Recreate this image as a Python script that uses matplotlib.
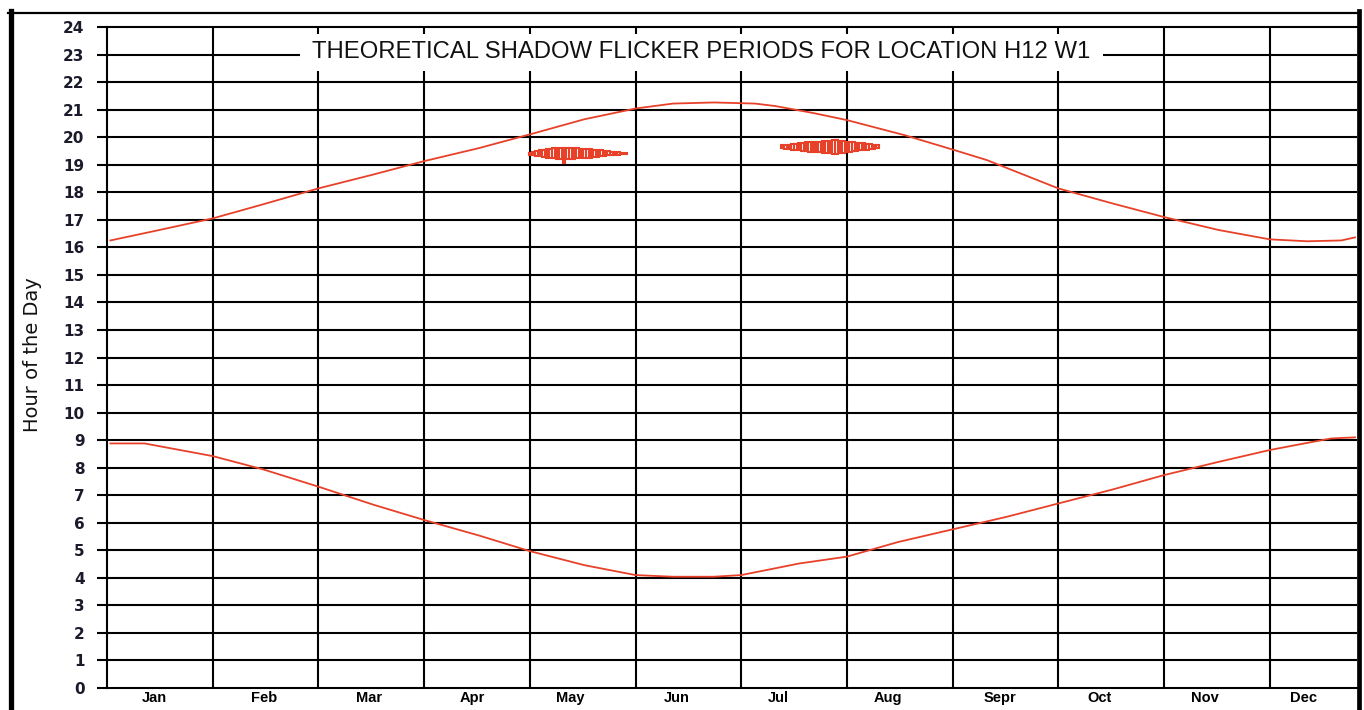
import matplotlib
matplotlib.use("Agg")
import matplotlib.pyplot as plt
from matplotlib.lines import Line2D
from matplotlib.patches import Rectangle

RED = "#e8412a"

# month labels (day of year of label) and grid boundaries (every 31 days)
months = ["Jan", "Feb", "Mar", "Apr", "May", "Jun", "Jul", "Aug", "Sepr", "Oct", "Nov", "Dec"]
month_label_day = [14, 46, 77, 107, 136, 167, 197, 229, 262, 291, 322, 351]
month_lines = [31, 62, 93, 124, 155, 186, 217, 248, 279, 310, 341]

# sunset curve (hour of day)
sunset_day = [1, 15, 31, 46, 62, 78, 93, 109, 124, 140, 155, 166, 178, 190, 196, 207,
              217, 234, 248, 258, 279, 295, 310, 326, 341, 352, 362, 366]
sunset_hr = [16.25, 16.62, 17.05, 17.57, 18.14, 18.64, 19.13, 19.60, 20.10, 20.65, 21.04, 21.22,
             21.26, 21.22, 21.13, 20.88, 20.62, 20.07, 19.55, 19.17, 18.14, 17.59, 17.10, 16.63,
             16.29, 16.22, 16.25, 16.36]

# sunrise curve
sunrise_day = [1, 11, 31, 46, 62, 78, 93, 109, 124, 140, 155, 166, 178, 186, 203, 217,
               232, 248, 264, 279, 295, 310, 326, 341, 352, 359, 366]
sunrise_hr = [8.88, 8.88, 8.42, 7.93, 7.31, 6.66, 6.10, 5.54, 4.97, 4.46, 4.10, 4.04,
              4.04, 4.10, 4.52, 4.77, 5.30, 5.76, 6.22, 6.70, 7.21, 7.73, 8.21, 8.64,
              8.90, 9.06, 9.10]

# flicker periods, May
may_day = [124, 125, 126, 127, 128, 129, 130, 131, 132, 133, 134, 135, 136, 137, 138,
           139, 140, 141, 142, 143, 144, 145, 146, 147, 148, 149, 150, 151, 152]
may_start = [19.36, 19.34, 19.32, 19.30, 19.27, 19.25, 19.24, 19.23, 19.22, 19.22, 19.05, 19.20,
             19.22, 19.22, 19.23, 19.23, 19.24, 19.25, 19.26, 19.27, 19.28, 19.30, 19.32, 19.34,
             19.35, 19.36, 19.37, 19.38, 19.39]
may_end = [19.44, 19.47, 19.50, 19.52, 19.55, 19.57, 19.58, 19.59, 19.60, 19.60, 19.60, 19.60,
           19.60, 19.59, 19.59, 19.58, 19.58, 19.57, 19.56, 19.55, 19.54, 19.52, 19.50, 19.48,
           19.47, 19.46, 19.45, 19.44, 19.43]

# flicker periods, Jul/Aug
jul_day = [198, 199, 200, 201, 202, 203, 204, 205, 206, 207, 208, 209, 210, 211, 212,
           213, 214, 215, 216, 217, 218, 219, 220, 221, 222, 223, 224, 225, 226]
jul_start = [19.60, 19.58, 19.57, 19.55, 19.53, 19.52, 19.50, 19.48, 19.47, 19.46, 19.45, 19.45,
             19.44, 19.44, 19.43, 19.40, 19.40, 19.42, 19.44, 19.45, 19.46, 19.48, 19.50, 19.52,
             19.54, 19.55, 19.57, 19.58, 19.60]
jul_end = [19.70, 19.72, 19.73, 19.75, 19.77, 19.78, 19.80, 19.81, 19.82, 19.83, 19.84, 19.84,
           19.85, 19.85, 19.86, 19.88, 19.88, 19.86, 19.85, 19.84, 19.83, 19.82, 19.80, 19.79,
           19.78, 19.76, 19.74, 19.72, 19.70]

W, H = 1364, 710
fig = plt.figure(figsize=(W / 100, H / 100), dpi=100)
ax = fig.add_axes([107 / W, 22 / H, 1250 / W, 661 / H])

ax.set_xlim(0, 366.6)
ax.set_ylim(0, 24)

# grid
for h in range(1, 24):
    ax.axhline(h, color="black", lw=1.5, zorder=1)
for d in month_lines:
    ax.axvline(d, color="black", lw=1.5, zorder=1)
for s in ["left", "bottom", "top"]:
    ax.spines[s].set_linewidth(1.5)
ax.spines["right"].set_visible(False)

ax.set_yticks(range(25))
ax.set_yticklabels([str(h) for h in range(25)], fontsize=11, fontweight="bold",
                   family="DejaVu Sans", color="#1a1a2a")
ax.tick_params(axis="y", length=7.2, width=1.5, pad=9)
ax.set_xticks(month_label_day)
ax.set_xticklabels(months, fontsize=10.5, fontweight="bold", family="Liberation Sans")
ax.tick_params(axis="x", length=0, pad=2.5)

# curves
ax.plot(sunset_day, sunset_hr, color=RED, lw=1.3, zorder=3)
ax.plot(sunrise_day, sunrise_hr, color=RED, lw=1.3, zorder=3)

# flicker periods
may_h = [e - s for s, e in zip(may_start, may_end)]
jul_h = [e - s for s, e in zip(jul_start, jul_end)]
ax.bar(may_day, may_h, bottom=may_start, width=0.75, facecolor="white",
       edgecolor=RED, linewidth=1.5, zorder=4)
ax.bar(jul_day, jul_h, bottom=jul_start, width=0.75, facecolor="white",
       edgecolor=RED, linewidth=1.5, zorder=4)

# title over the grid, on a white panel
fig.add_artist(Rectangle((300 / W, 1 - 71 / H), 803 / W, 37 / H, transform=fig.transFigure,
                         facecolor="white", edgecolor="none", zorder=9))
fig.text(701 / W, 1 - 52 / H, "THEORETICAL SHADOW FLICKER PERIODS FOR LOCATION H12 W1",
         ha="center", va="center", fontsize=17.2, family="Liberation Sans", color="#111111",
         zorder=10)

fig.text(33 / W, 1 - 355 / H, "Hour of the Day", rotation=90, ha="center", va="center",
         fontsize=14, family="DejaVu Sans", color="#111111")

# outer frame
fig.add_artist(Line2D([10.5 / W, 10.5 / W], [0, 1 - 11 / H], color="black", lw=3.8))
fig.add_artist(Line2D([8 / W, 1360 / W], [1 - 12.5 / H, 1 - 12.5 / H], color="black", lw=1.6))
fig.add_artist(Line2D([1358.5 / W, 1358.5 / W], [0, 1 - 11 / H], color="black", lw=3.4))

fig.savefig("out.png", dpi=100)
